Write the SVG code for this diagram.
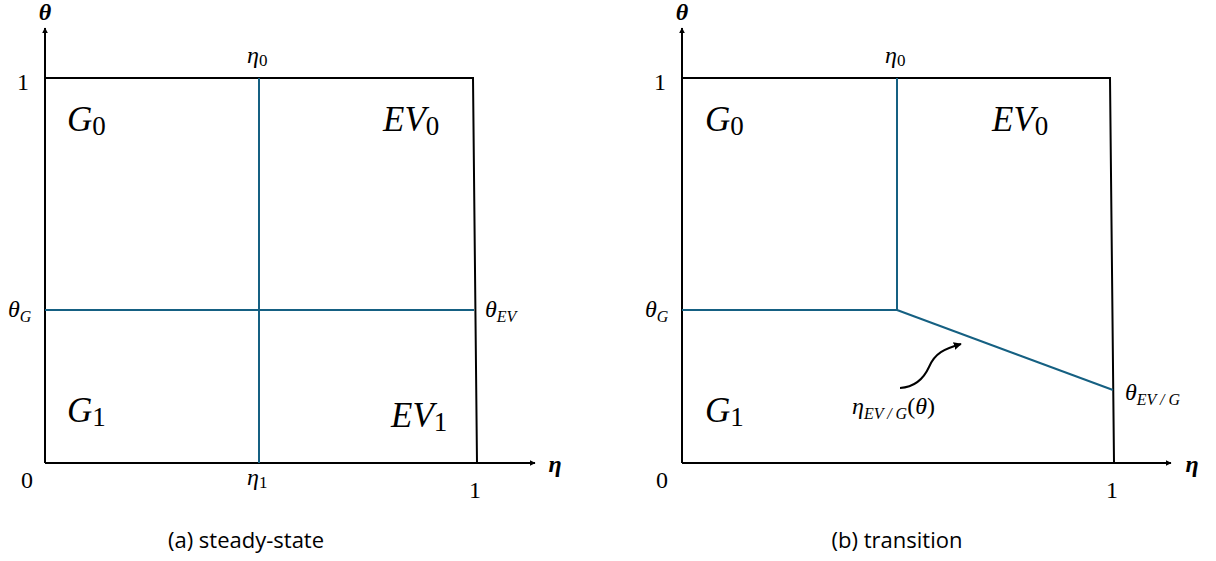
<svg xmlns="http://www.w3.org/2000/svg" width="1216" height="561" viewBox="0 0 1216 561">
<defs>
<marker id="ah" viewBox="0 0 10 10" refX="9" refY="5" markerWidth="6" markerHeight="6" orient="auto" markerUnits="userSpaceOnUse"><path d="M0,0 L10,5 L0,10 z" fill="#000"/></marker>
<marker id="ahs" viewBox="0 0 10 10" refX="9" refY="5" markerWidth="8" markerHeight="8" orient="auto" markerUnits="userSpaceOnUse"><path d="M0,0 L10,5 L0,10 z" fill="#000"/></marker>
<style>
.ax{stroke:#000;stroke-width:2;fill:none}
.bx{stroke:#000;stroke-width:2;fill:none}
.bl{stroke:#156082;stroke-width:2;fill:none}
.m{font-family:"Liberation Serif","DejaVu Serif",serif;fill:#000}
.mi{font-family:"Liberation Serif","DejaVu Serif",serif;font-style:italic;fill:#000}
.big{font-size:35px}
.sm{font-size:24px}
.axl{font-family:"Liberation Serif",serif;font-style:italic;font-weight:bold;font-size:24px}
.cap{font-family:"Open Sans","Liberation Sans",sans-serif;font-size:22px;fill:#000}
</style>
</defs>
<g id="panel-a">
<g id="a-connectors">
<line class="ax" x1="45" y1="463" x2="45" y2="28" marker-end="url(#ah)"/>
<line class="ax" x1="45" y1="463" x2="535" y2="463" marker-end="url(#ah)"/>
<polyline class="bx" points="45,78 473,78 477,463"/>
<line class="bl" x1="259" y1="78" x2="259" y2="463"/>
<line class="bl" x1="45" y1="310" x2="474" y2="310"/>
</g>
<g id="a-labels">
<text class="axl" x="45" y="20" text-anchor="middle">θ</text>
<text class="axl" x="555" y="472" text-anchor="middle">η</text>
<text class="m sm" x="23" y="90" text-anchor="middle">1</text>
<text class="m sm" x="27" y="488" text-anchor="middle">0</text>
<text class="m sm" x="475" y="498" text-anchor="middle">1</text>
<text class="sm" x="247" y="63"><tspan class="mi">η</tspan><tspan class="m" font-size="17" dy="3">0</tspan></text>
<text class="sm" x="247" y="485"><tspan class="mi">η</tspan><tspan class="m" font-size="17" dy="3">1</tspan></text>
<text class="sm" x="8" y="317"><tspan class="mi">θ</tspan><tspan class="mi" font-size="16" dy="5">G</tspan></text>
<text class="sm" x="485" y="317"><tspan class="mi">θ</tspan><tspan class="mi" font-size="16" dy="5">EV</tspan></text>
</g>
<g id="a-G0"><text class="big" x="67" y="131"><tspan class="mi">G</tspan><tspan class="m" font-size="27" dy="4">0</tspan></text></g>
<g id="a-EV0"><text class="big" x="383" y="131"><tspan class="mi">EV</tspan><tspan class="m" font-size="27" dy="4">0</tspan></text></g>
<g id="a-G1"><text class="big" x="67" y="422"><tspan class="mi">G</tspan><tspan class="m" font-size="27" dy="4">1</tspan></text></g>
<g id="a-EV1"><text class="big" x="391" y="427"><tspan class="mi">EV</tspan><tspan class="m" font-size="27" dy="4">1</tspan></text></g>
<text class="cap" x="246" y="548" text-anchor="middle">(a) steady-state</text>
</g>
<g id="panel-b">
<g id="b-connectors">
<line class="ax" x1="682" y1="463" x2="682" y2="28" marker-end="url(#ah)"/>
<line class="ax" x1="682" y1="463" x2="1171" y2="463" marker-end="url(#ah)"/>
<polyline class="bx" points="682,78 1110,78 1114,463"/>
<polyline class="bl" points="897,78 897,310 682,310"/>
<line class="bl" x1="897" y1="310" x2="1113" y2="390"/>
<path class="ax" d="M900,388 C916,387 924,378 929,367 C935,353 944,349 961,344" marker-end="url(#ahs)"/>
</g>
<g id="b-labels">
<text class="axl" x="682" y="20" text-anchor="middle">θ</text>
<text class="axl" x="1192" y="472" text-anchor="middle">η</text>
<text class="m sm" x="660" y="90" text-anchor="middle">1</text>
<text class="m sm" x="662" y="488" text-anchor="middle">0</text>
<text class="m sm" x="1112" y="498" text-anchor="middle">1</text>
<text class="sm" x="885" y="63"><tspan class="mi">η</tspan><tspan class="m" font-size="17" dy="3">0</tspan></text>
<text class="sm" x="645" y="317"><tspan class="mi">θ</tspan><tspan class="mi" font-size="16" dy="5">G</tspan></text>
<text class="sm" x="1125" y="400"><tspan class="mi">θ</tspan><tspan class="mi" font-size="16" dy="5">EV / G</tspan></text>
<text class="sm" x="852" y="414"><tspan class="mi">η</tspan><tspan class="mi" font-size="16" dy="5">EV / G</tspan><tspan class="m" dy="-5">(</tspan><tspan class="mi">θ</tspan><tspan class="m">)</tspan></text>
</g>
<g id="b-G0"><text class="big" x="705" y="131"><tspan class="mi">G</tspan><tspan class="m" font-size="27" dy="4">0</tspan></text></g>
<g id="b-EV0"><text class="big" x="992" y="131"><tspan class="mi">EV</tspan><tspan class="m" font-size="27" dy="4">0</tspan></text></g>
<g id="b-G1"><text class="big" x="705" y="422"><tspan class="mi">G</tspan><tspan class="m" font-size="27" dy="4">1</tspan></text></g>
<text class="cap" x="897" y="548" text-anchor="middle">(b) transition</text>
</g>
</svg>
